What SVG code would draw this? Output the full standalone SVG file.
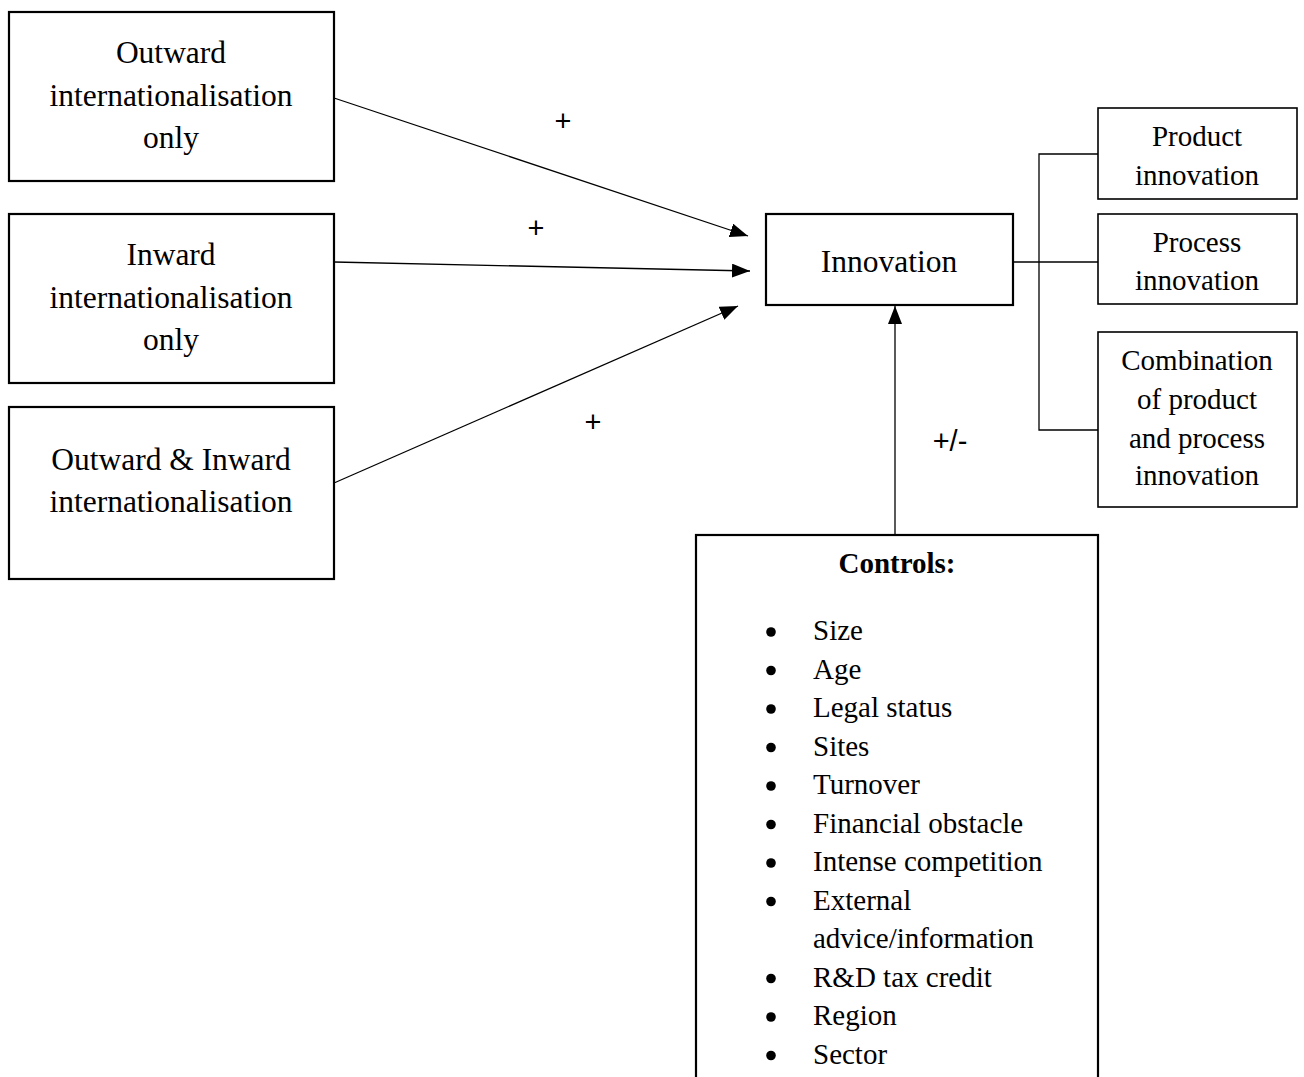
<svg xmlns="http://www.w3.org/2000/svg" width="1304" height="1077" viewBox="0 0 1304 1077">
<style>
.box{fill:#fff;stroke:#000;stroke-width:2.2}
.sbox{fill:#fff;stroke:#000;stroke-width:1.6}
.t{font-family:"Liberation Serif","Times New Roman",serif;fill:#000}
.big{font-size:31.5px}
.med{font-size:29px}
.c{text-anchor:middle}
.lbl{font-family:"Liberation Sans",Arial,sans-serif;font-size:29px;fill:#000;text-anchor:middle}
.ln{stroke:#000;stroke-width:1.3;fill:none}
</style>
<defs>
<marker id="ah" markerUnits="userSpaceOnUse" markerWidth="18" markerHeight="14" refX="18" refY="7" orient="auto">
<path d="M0,0 L18,7 L0,14 z" fill="#000"/>
</marker>
</defs>
<rect width="1304" height="1077" fill="#fff"/>
<g id="connectors">
<line class="ln" x1="334" y1="98" x2="748" y2="236" marker-end="url(#ah)"/>
<line class="ln" x1="334" y1="262" x2="750" y2="271" marker-end="url(#ah)"/>
<line class="ln" x1="334" y1="483" x2="738" y2="306" marker-end="url(#ah)"/>
<line class="ln" x1="895" y1="535" x2="895" y2="306" marker-end="url(#ah)"/>
<polyline class="ln" points="1098,154 1039,154 1039,430 1098,430"/>
<line class="ln" x1="1013" y1="262" x2="1098" y2="262"/>
<text class="lbl" x="563" y="131">+</text>
<text class="lbl" x="536" y="238">+</text>
<text class="lbl" x="593" y="432">+</text>
<text class="lbl" x="950" y="451">+/-</text>
</g>
<g id="outward">
<rect class="box" x="9" y="12" width="325" height="169"/>
<text class="t big c" x="171" y="63">Outward</text>
<text class="t big c" x="171" y="106">internationalisation</text>
<text class="t big c" x="171" y="148">only</text>
</g>
<g id="inward">
<rect class="box" x="9" y="214" width="325" height="169"/>
<text class="t big c" x="171" y="265">Inward</text>
<text class="t big c" x="171" y="308">internationalisation</text>
<text class="t big c" x="171" y="350">only</text>
</g>
<g id="both">
<rect class="box" x="9" y="407" width="325" height="172"/>
<text class="t big c" x="171" y="470">Outward &amp; Inward</text>
<text class="t big c" x="171" y="512">internationalisation</text>
</g>
<g id="innovation">
<rect class="box" x="766" y="214" width="247" height="91"/>
<text class="t big c" x="889" y="272">Innovation</text>
</g>
<g id="product">
<rect class="sbox" x="1098" y="108" width="199" height="91"/>
<text class="t med c" x="1197" y="146">Product</text>
<text class="t med c" x="1197" y="185">innovation</text>
</g>
<g id="process">
<rect class="sbox" x="1098" y="214" width="199" height="90"/>
<text class="t med c" x="1197" y="252">Process</text>
<text class="t med c" x="1197" y="290">innovation</text>
</g>
<g id="combination">
<rect class="sbox" x="1098" y="332" width="199" height="175"/>
<text class="t med c" x="1197" y="370">Combination</text>
<text class="t med c" x="1197" y="409">of product</text>
<text class="t med c" x="1197" y="448">and process</text>
<text class="t med c" x="1197" y="485">innovation</text>
</g>
<g id="controls">
<rect class="box" x="696" y="535" width="402" height="560"/>
<text class="t med c" x="897" y="573" font-weight="bold">Controls:</text>
<g fill="#000">
<circle cx="771" cy="632" r="4.8"/>
<circle cx="771" cy="670.5" r="4.8"/>
<circle cx="771" cy="709" r="4.8"/>
<circle cx="771" cy="747.5" r="4.8"/>
<circle cx="771" cy="786" r="4.8"/>
<circle cx="771" cy="824.5" r="4.8"/>
<circle cx="771" cy="863" r="4.8"/>
<circle cx="771" cy="901.5" r="4.8"/>
<circle cx="771" cy="978.5" r="4.8"/>
<circle cx="771" cy="1017" r="4.8"/>
<circle cx="771" cy="1055.5" r="4.8"/>
</g>
<text class="t med" x="813" y="640">Size</text>
<text class="t med" x="813" y="678.5">Age</text>
<text class="t med" x="813" y="717">Legal status</text>
<text class="t med" x="813" y="755.5">Sites</text>
<text class="t med" x="813" y="794">Turnover</text>
<text class="t med" x="813" y="832.5">Financial obstacle</text>
<text class="t med" x="813" y="871">Intense competition</text>
<text class="t med" x="813" y="909.5">External</text>
<text class="t med" x="813" y="948">advice/information</text>
<text class="t med" x="813" y="986.5">R&amp;D tax credit</text>
<text class="t med" x="813" y="1025">Region</text>
<text class="t med" x="813" y="1063.5">Sector</text>
</g>
</svg>
